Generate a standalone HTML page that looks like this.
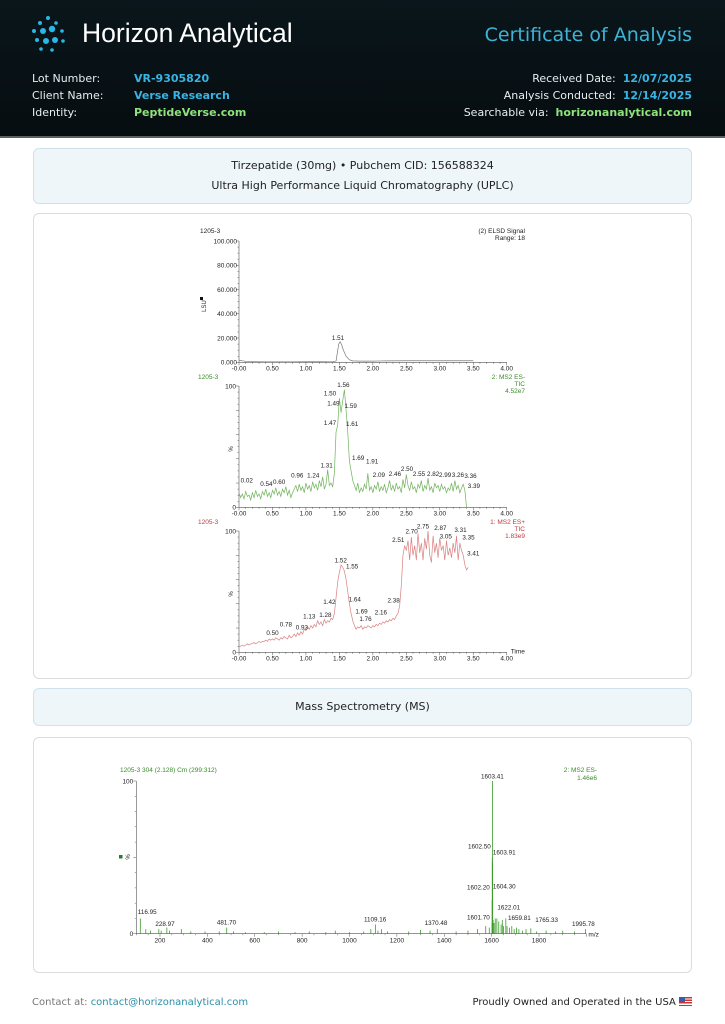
<!DOCTYPE html>
<html><head><meta charset="utf-8">
<style>
*{margin:0;padding:0;box-sizing:border-box}
body{width:725px;height:1024px;position:relative;background:#fff;font-family:"DejaVu Sans","Liberation Sans",sans-serif;overflow:hidden}
#hdr{position:absolute;left:0;top:0;width:725px;height:138px;background:linear-gradient(180deg,#0a161b,#060d10);border-bottom:2px solid #5a5f62}
.t{position:absolute;white-space:nowrap}
.lbl{color:#e8eef0;font-size:11px}
.val{font-size:11px;font-weight:bold}
.card{position:absolute;left:33px;width:659px;border-radius:6px}
.info{background:#eef6fa;border:1px solid #cfe2ea}
.plain{background:#fff;border:1px solid #dcdcdc}
svg text{font-family:"Liberation Sans",sans-serif}
</style></head><body>
<div id="hdr">
  <svg class="t" style="left:30px;top:14px" width="42" height="42">
    <g fill="#29b6e8">
      <circle cx="18" cy="4" r="2"/><circle cx="10" cy="9" r="2"/><circle cx="26" cy="9" r="1.8"/>
      <circle cx="4" cy="17" r="2"/><circle cx="13" cy="17" r="3"/><circle cx="22" cy="15" r="3.2"/><circle cx="32" cy="17" r="1.8"/>
      <circle cx="7" cy="26" r="2"/><circle cx="16" cy="27" r="3"/><circle cx="25" cy="26" r="3"/><circle cx="33" cy="27" r="1.8"/>
      <circle cx="11" cy="35" r="1.8"/><circle cx="22" cy="36" r="1.8"/>
    </g>
  </svg>
  <div class="t" style="left:82px;top:18px;font-family:'Liberation Sans',sans-serif;font-size:26.5px;color:#fff">Horizon Analytical</div>
  <div class="t" style="right:33px;top:24px;font-size:19px;color:#3fb3d6">Certificate of Analysis</div>
  <div class="t lbl" style="left:32px;top:72px">Lot Number:</div>
  <div class="t val" style="left:134px;top:72px;color:#3ab4e2">VR-9305820</div>
  <div class="t lbl" style="left:32px;top:89px">Client Name:</div>
  <div class="t val" style="left:134px;top:89px;color:#3ab4e2">Verse Research</div>
  <div class="t lbl" style="left:32px;top:106px">Identity:</div>
  <div class="t val" style="left:134px;top:106px;color:#8fe27c">PeptideVerse.com</div>
  <div class="t lbl" style="right:33px;top:72px">Received Date:&nbsp; <b style="color:#3ab4e2">12/07/2025</b></div>
  <div class="t lbl" style="right:33px;top:89px">Analysis Conducted:&nbsp; <b style="color:#3ab4e2">12/14/2025</b></div>
  <div class="t lbl" style="right:33px;top:106px">Searchable via:&nbsp; <b style="color:#8fe27c">horizonanalytical.com</b></div>
</div>

<div class="card info" style="top:148px;height:56px">
  <div class="t" style="left:0;width:657px;text-align:center;top:10px;font-size:11px;color:#222">Tirzepatide (30mg) • Pubchem CID: 156588324</div>
  <div class="t" style="left:0;width:657px;text-align:center;top:30px;font-size:11px;color:#222">Ultra High Performance Liquid Chromatography (UPLC)</div>
</div>
<div class="card plain" style="top:213px;height:466px"></div>
<div class="card info" style="top:688px;height:38px">
  <div class="t" style="left:0;width:657px;text-align:center;top:11px;font-size:11px;color:#222">Mass Spectrometry (MS)</div>
</div>
<div class="card plain" style="top:737px;height:236px"></div>

<div class="t" style="left:32px;top:997px;font-size:10px;color:#777">Contact at: <span style="color:#2a8fa8">contact@horizonanalytical.com</span></div>
<div class="t" style="right:33px;top:997px;font-size:10px;color:#222">Proudly Owned and Operated in the USA <span style="display:inline-block;width:13px;height:9px;vertical-align:-1px;background:repeating-linear-gradient(#c33 0 1.3px,#fff 1.3px 2.6px);position:relative"><span style="position:absolute;left:0;top:0;width:6px;height:5px;background:#3a5ba8"></span></span></div>

<svg id="charts" width="725" height="1024" style="position:absolute;left:0;top:0"></svg>

<script>
// ---- Chart 1: ELSD ----
const elsdTimes=[0,0.05,0.1,0.2,0.4,0.6,0.8,1.0,1.2,1.4,1.45,1.47,1.49,1.51,1.53,1.56,1.6,1.65,1.7,1.8,2.0,2.2,2.5,3.0,3.5];
const elsdValues=[1800,1200,800,500,400,400,400,500,500,600,1000,8000,15000,17000,15000,10000,5000,2000,1200,1000,1000,1200,1300,1300,1300];
const elsdLabels=[["1.51",1.48,18400]];
const elsdTicksY=[0,20000,40000,60000,80000,100000];
const elsdTickLabelsY=["0.000","20.000","40.000","60.000","80.000","100.000"];
// ---- Chart 2: MS2 ES- TIC (step 0.025 min) ----
const tic2Step=0.025;
const tic2Values=[12,8,11,7,13,9,10,6,12,8,14,9,11,7,13,10,15,9,12,8,14,11,16,10,13,9,15,12,17,10,14,8,12,
15,18,13,19,14,17,12,20,15,18,13,21,16,19,14,22,17,25,15,19,31,18,20,17,
28,62,68,90,78,88,97,80,62,38,30,22,
18,14,20,12,16,13,19,15,28,14,17,12,18,15,21,13,17,14,19,12,16,22,14,18,13,20,15,17,12,23,16,27,18,14,21,15,17,12,19,16,22,13,18,15,24,14,17,12,20,16,18,13,19,15,17,12,16,14,20,13,22,15,18,12,16,19,14,0];
const tic2Labels=[["0.02",0.115,20.3],["0.54",0.41,17.6],["0.60",0.60,19.2],["0.96",0.87,24.7],["1.24",1.11,24.7],["1.31",1.31,33],["1.47",1.36,68],["1.49",1.41,84],["1.50",1.36,92],["1.56",1.56,99],["1.59",1.67,82],["1.61",1.69,67],["1.69",1.78,39],["1.91",1.99,36],["2.09",2.09,25],["2.46",2.33,26],["2.50",2.51,30],["2.55",2.69,26],["2.82",2.90,26],["2.99",3.08,25],["3.26",3.27,25],["3.36",3.46,24],["3.39",3.51,16]];
// ---- Chart 3: MS2 ES+ TIC ----
const tic3Step=0.025;
const tic3Values=[5,5,6,5,6,7,6,7,7,8,7,8,9,8,9,9,10,9,11,10,11,10,12,11,10,12,11,13,12,11,14,12,13,
15,13,16,14,17,15,19,18,21,19,22,20,23,21,26,23,25,22,27,24,26,25,28,27,
32,45,58,66,72,70,67,60,50,40,32,26,22,19,
21,20,22,19,21,20,22,21,20,22,21,23,22,24,23,25,24,26,25,27,26,28,27,30,32,38,
55,80,88,84,92,76,95,80,88,76,98,82,90,76,94,85,100,80,74,96,82,90,78,94,84,88,76,92,80,86,78,90,82,96,76,90,84,80,72,68,70];
const tic3Labels=[["0.50",0.50,14.3],["0.78",0.70,21.4],["0.93",0.94,18.7],["1.13",1.05,28],["1.28",1.29,29],["1.42",1.35,40],["1.52",1.52,74],["1.55",1.69,69],["1.64",1.73,42],["1.69",1.83,32],["1.76",1.89,26],["2.16",2.12,31],["2.38",2.31,41],["2.51",2.38,91],["2.70",2.58,98],["2.75",2.75,102],["2.87",3.01,101],["3.05",3.09,94],["3.31",3.31,99],["3.35",3.43,93],["3.41",3.50,80]];
const timeTicks=[0,0.5,1,1.5,2,2.5,3,3.5,4];
const timeTickLabels=["-0.00","0.50","1.00","1.50","2.00","2.50","3.00","3.50","4.00"];
// ---- MS spectrum ----
const msMz=[116.95,140,160,195,205,228.97,240,290,330,390,450,481.7,510,560,640,700,770,830,900,940,1000,1060,1090,1109.16,1120,1135,1160,1250,1300,1340,1370.48,1450,1500,1540,1575,1590,1601.7,1602.2,1602.5,1603.41,1603.91,1604.3,1606,1610,1615,1622.01,1630,1640,1645,1650,1659.81,1665,1675,1685,1695,1705,1715,1730,1745,1765.33,1790,1830,1870,1900,1950,1995.78];
const msIntensity=[10,3,2,3,2,4,2,3,1.5,1.5,1.5,4,1.5,1,1,1.5,1,1.5,1,2,1,1.5,3,6,2,3,1.5,1.5,2.5,2,3,1.5,2,3,5,4,7,22,50,100,47,24,9,7,10,10,8,6,9,5,10,5,4,5,3,4,3,2,3,3.5,1.5,2,1.5,2,1.5,3];
const msLabels=[["116.95",146,12.9],["228.97",221,5.2],["481.70",481,6.1],["1109.16",1108,7.9],["1370.48",1365,5.7],["1601.70",1544,9.4],["1602.20",1544,29],["1602.50",1548,55.7],["1603.41",1603,101.7],["1603.91",1653,52],["1604.30",1653,29.7],["1622.01",1672,16],["1659.81",1717,9],["1765.33",1832,7.6],["1995.78",1987,5.2]];
const mzTicks=[200,400,600,800,1000,1200,1400,1600,1800];

const NS="http://www.w3.org/2000/svg";
const svg=document.getElementById('charts');
function mk(tag,attrs,parent){const e=document.createElementNS(NS,tag);for(const k in attrs)e.setAttribute(k,attrs[k]);(parent||svg).appendChild(e);return e;}
function txt(s,x,y,size,fill,anchor,parent){const e=mk('text',{x:x,y:y,'font-size':size,fill:fill,'text-anchor':anchor||'start'},parent);e.textContent=s;return e;}

function timeAxis(g,x0,x1,y0,withTime){
  const sx=t=>x0+(x1-x0)*t/4;
  const ax=mk('line',{x1:x0,y1:y0,x2:x1,y2:y0,stroke:'#555','stroke-width':0.6},g);
  
  
  for(let i=0;i<=40;i++){const x=sx(i*0.1);mk('line',{x1:x,y1:y0,x2:x,y2:y0+(i%5==0?3:1.5),stroke:'#555','stroke-width':0.5},g);}
  timeTicks.forEach((t,i)=>{const e=txt(timeTickLabels[i],sx(t),y0+8,6.5,'#222','middle',g);
    
    });
  if(withTime){txt('Time',x1+4,y0+1,6.5,'#222','start',g);}
  return sx;
}
function vAxis(g,x0,yTop,yBot){
  const ax=mk('line',{x1:x0,y1:yTop,x2:x0,y2:yBot,stroke:'#555','stroke-width':0.6},g);
  
  
  for(let i=0;i<=20;i++){const y=yBot-(yBot-yTop)*i/20;mk('line',{x1:x0-(i%4==0?3:1.5),y1:y,x2:x0,y2:y,stroke:'#555','stroke-width':0.5},g);}
}
function trace(g,times,vals,sx,sy,color){
  const p=times.map((t,i)=>(i?'L':'M')+sx(t).toFixed(2)+' '+sy(vals[i]).toFixed(2)).join('');
  const e=mk('path',{d:p,fill:'none',stroke:color,'stroke-width':0.7},g);
  return e;
}
function labels(g,arr,sx,sy){
  arr.forEach(l=>{const e=txt(l[0],sx(l[1]),sy(l[2]),6.3,'#222','middle',g);
    
    });
}

const X0=239,X1=506.7;
// Chart 1
{
  const g=mk('g',{});  
  const yT=241,yB=362.3; const sy=v=>yB-(yB-yT)*v/100000;
  vAxis(g,X0,yT,yB); const sx=timeAxis(g,X0,X1,yB,false);
  elsdTicksY.forEach((v,i)=>{txt(elsdTickLabelsY[i],X0-2,sy(v)+2.3,6.5,'#222','end',g);});
  const tr=trace(g,elsdTimes,elsdValues,sx,sy,'#777');
   
  labels(g,elsdLabels,sx,sy);
  txt('1205-3',200,233,6.5,'#222','start',g);
  txt('(2) ELSD Signal',525,233,6.5,'#222','end',g);
  txt('Range: 18',525,240,6.5,'#222','end',g);
  mk('rect',{x:200,y:297,width:3,height:3,fill:'#111'},g);
  const yl=txt('LSU',206,306,6,'#222','middle',g); yl.setAttribute('transform','rotate(-90 206 306)');
}
// Chart 2
{
  const g=mk('g',{});  
  const yT=386,yB=507.3; const sy=v=>yB-(yB-yT)*v/100;
  vAxis(g,X0,yT,yB); const sx=timeAxis(g,X0,X1,yB,false);
  txt('100',X0-3,yT+2.3,6.5,'#222','end',g); txt('0',X0-3,yB+2.3,6.5,'#222','end',g);
  const times=tic2Values.map((v,i)=>i*tic2Step);
  const tr=trace(g,times,tic2Values,sx,sy,'#6fb35c');
   
  labels(g,tic2Labels,sx,sy);
  txt('1205-3',198,379,6.5,'#3a8a2a','start',g);
  txt('2: MS2 ES-',525,379,6.5,'#3a8a2a','end',g);
  txt('TIC',525,386,6.5,'#3a8a2a','end',g);
  txt('4.52e7',525,393,6.5,'#3a8a2a','end',g);
  txt('%',233,449,6,'#222','middle',g).setAttribute('transform','rotate(-90 233 449)');
}
// Chart 3
{
  const g=mk('g',{});  
  const yT=531,yB=652.3; const sy=v=>yB-(yB-yT)*v/100;
  vAxis(g,X0,yT,yB); const sx=timeAxis(g,X0,X1,yB,true);
  txt('100',X0-3,yT+2.3,6.5,'#222','end',g); txt('0',X0-3,yB+2.3,6.5,'#222','end',g);
  const times=tic3Values.map((v,i)=>i*tic3Step);
  const tr=trace(g,times,tic3Values,sx,sy,'#d88080');
   
  labels(g,tic3Labels,sx,sy);
  txt('1205-3',198,524,6.5,'#c03a3a','start',g);
  txt('1: MS2 ES+',525,524,6.5,'#c03a3a','end',g);
  txt('TIC',525,531,6.5,'#c03a3a','end',g);
  txt('1.83e9',525,538,6.5,'#c03a3a','end',g);
  txt('%',233,594,6,'#222','middle',g).setAttribute('transform','rotate(-90 233 594)');
}
// MS spectrum
{
  const g=mk('g',{});  
  const x0=136.3,yT=781,yB=933.7; const sx=m=>x0+(m-100)*0.2369; const sy=v=>yB-(yB-yT)*v/100;
  const ax=mk('line',{x1:x0,y1:yT,x2:x0,y2:yB,stroke:'#555','stroke-width':0.6},g);
   
  for(let i=0;i<=10;i++){const y=sy(i*10);mk('line',{x1:x0-(i%5==0?3:1.5),y1:y,x2:x0,y2:y,stroke:'#555','stroke-width':0.5},g);}
  const bx=mk('line',{x1:x0,y1:yB,x2:sx(2000),y2:yB,stroke:'#555','stroke-width':0.6},g);
   
  for(let m=100;m<=2000;m+=50){mk('line',{x1:sx(m),y1:yB,x2:sx(m),y2:yB+(m%200==0?3:1.5),stroke:'#555','stroke-width':0.5},g);}
  mzTicks.forEach(m=>{const e=txt(String(m),sx(m),yB+9,6.5,'#222','middle',g);
     });
  txt('100',x0-3,yT+2.3,6.5,'#222','end',g); txt('0',x0-3,yB+2.3,6.5,'#222','end',g);
  txt('m/z',sx(2000)+2,yB+3,6.5,'#222','start',g);
  msMz.forEach((m,i)=>{const b=mk('line',{x1:sx(m),y1:yB,x2:sx(m),y2:sy(msIntensity[i]),stroke:'#3c9a2c','stroke-width':0.8},g);
     });
  msLabels.forEach(l=>{const e=txt(l[0],sx(l[1]),sy(l[2]),6.3,'#222','middle',g);
     });
  txt('1205-3 304 (2.128) Cm (299:312)',120,772,6.5,'#3a8a2a','start',g);
  txt('2: MS2 ES-',597,772,6.5,'#3a8a2a','end',g);
  txt('1.46e6',597,780,6.5,'#3a8a2a','end',g);
  mk('rect',{x:119,y:855,width:3.5,height:3.5,fill:'#2a7a2a'},g);
  txt('%',130,857,6,'#222','middle',g).setAttribute('transform','rotate(-90 130 857)');
}
</script>
</body></html>
